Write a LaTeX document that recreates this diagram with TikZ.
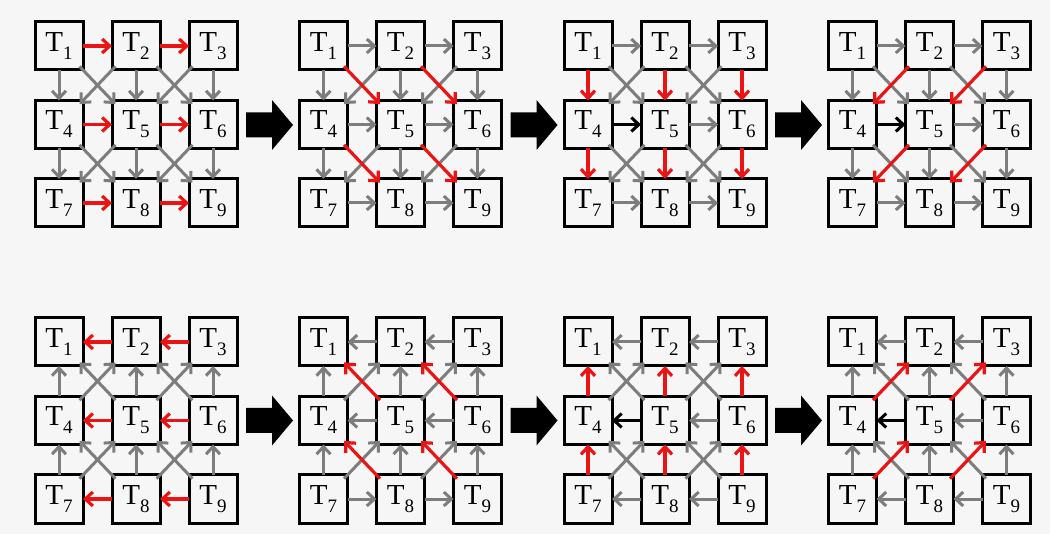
\documentclass[tikz,border=0pt]{standalone}
\usepackage{fontspec}
\setmainfont{Liberation Serif}
\usetikzlibrary{arrows.meta}
\definecolor{bg}{RGB}{246,246,246}
\definecolor{ag}{RGB}{125,125,125}
\definecolor{ar}{RGB}{235,20,20}
\newcommand\tsub[1]{\raisebox{-8pt}{\fontsize{19}{19}\selectfont #1}}
\tikzset{
  tbox/.style={draw=black, line width=3pt, fill=bg, minimum size=48pt, inner sep=0pt, outer sep=0pt,
    font=\fontsize{29}{29}\selectfont},
  arr/.style={line width=3pt, -{Straight Barb[length=7.5pt,width=14pt]}},
  ga/.style={arr, draw=ag},
  ra/.style={arr, draw=ar, line width=3.2pt},
  ka/.style={arr, draw=black},
  dg/.style={shorten <=-5pt, shorten >=-5pt},
  bigarr/.style={fill=black, draw=none}
}
% panel of 9 boxes: #1 prefix, #2 x of first column, #3 y of first row
\newcommand\mkpanel[3]{%
  \foreach \i/\c/\r in {1/0/0,2/1/0,3/2/0,4/0/1,5/1/1,6/2/1,7/0/2,8/1/2,9/2/2}{
    \node[tbox] (#1\i) at ({#2+77*\c},{#3+78.5*\r}) {T\tsub{\i}};
  }}
% forward (right / down) groups
\newcommand\Hf[2]{\foreach \a/\b in {1/2,2/3,5/6,7/8,8/9}{\draw[#2] (#1\a.east) -- (#1\b.west);}}
\newcommand\Vf[2]{\foreach \a/\b in {1/4,2/5,3/6,4/7,5/8,6/9}{\draw[#2] (#1\a.south) -- (#1\b.north);}}
\newcommand\SEf[2]{\foreach \a/\b in {1/5,2/6,4/8,5/9}{\draw[#2,dg] (#1\a.south east) -- (#1\b.north west);}}
\newcommand\SWf[2]{\foreach \a/\b in {2/4,3/5,5/7,6/8}{\draw[#2,dg] (#1\a.south west) -- (#1\b.north east);}}
% backward (left / up) groups
\newcommand\Hb[2]{\foreach \a/\b in {2/1,3/2,6/5}{\draw[#2] (#1\a.west) -- (#1\b.east);}}
\newcommand\Vb[2]{\foreach \a/\b in {4/1,5/2,6/3,7/4,8/5,9/6}{\draw[#2] (#1\a.north) -- (#1\b.south);}}
\newcommand\NWb[2]{\foreach \a/\b in {5/1,6/2,8/4,9/5}{\draw[#2,dg] (#1\a.north west) -- (#1\b.south east);}}
\newcommand\NEb[2]{\foreach \a/\b in {4/2,5/3,7/5,8/6}{\draw[#2,dg] (#1\a.north east) -- (#1\b.south west);}}
\begin{document}
\begin{tikzpicture}[x=1pt,y=-1pt]
\fill[bg] (0,0) rectangle (1050,534);
\useasboundingbox (0,0) rectangle (1050,534);
% boxes
\mkpanel{a}{59}{46}
\mkpanel{b}{323.5}{46}
\mkpanel{c}{588}{46}
\mkpanel{d}{852.5}{46}
\mkpanel{e}{59}{342}
\mkpanel{f}{323.5}{342}
\mkpanel{g}{588}{342}
\mkpanel{h}{852.5}{342}
% big arrows
\foreach \k in {0,1,2}{
  \foreach \yc in {125,420.5}{
    \fill[bigarr] ({246+264.5*\k},\yc-12.5) -- ++(26,0) -- ++(0,-12.5) -- ++(21,25) -- ++(-21,25) -- ++(0,-12.5) -- ++(-26,0) -- cycle;
  }}
% panel a
\SEf{a}{ga} \SWf{a}{ga} \Vf{a}{ga} \Hf{a}{ra} \draw[ra] (a4.east) -- (a5.west);
% panel b
\SWf{b}{ga} \Vf{b}{ga} \Hf{b}{ga} \draw[ga] (b4.east) -- (b5.west); \SEf{b}{ra}
% panel c
\SEf{c}{ga} \SWf{c}{ga} \Hf{c}{ga} \draw[ka] (c4.east) -- (c5.west); \Vf{c}{ra}
% panel d
\SEf{d}{ga} \Vf{d}{ga} \Hf{d}{ga} \draw[ka] (d4.east) -- (d5.west); \SWf{d}{ra}
% panel e
\NWb{e}{ga} \NEb{e}{ga} \Vb{e}{ga} \Hb{e}{ra} \draw[ra] (e5.west) -- (e4.east);
\draw[ra] (e8.west) -- (e7.east); \draw[ra] (e9.west) -- (e8.east);
% panel f
\NEb{f}{ga} \Vb{f}{ga} \Hb{f}{ga} \draw[ga] (f5.west) -- (f4.east);
\draw[ga] (f7.east) -- (f8.west); \draw[ga] (f8.east) -- (f9.west);
\NWb{f}{ra}
% panel g
\NWb{g}{ga} \NEb{g}{ga} \Hb{g}{ga} \draw[ka] (g5.west) -- (g4.east);
\draw[ga] (g8.west) -- (g7.east); \draw[ga] (g9.west) -- (g8.east);
\Vb{g}{ra}
% panel h
\NWb{h}{ga} \Vb{h}{ga} \Hb{h}{ga} \draw[ka] (h5.west) -- (h4.east);
\draw[ga] (h8.west) -- (h7.east); \draw[ga] (h9.west) -- (h8.east);
\NEb{h}{ra}
\end{tikzpicture}
\end{document}
